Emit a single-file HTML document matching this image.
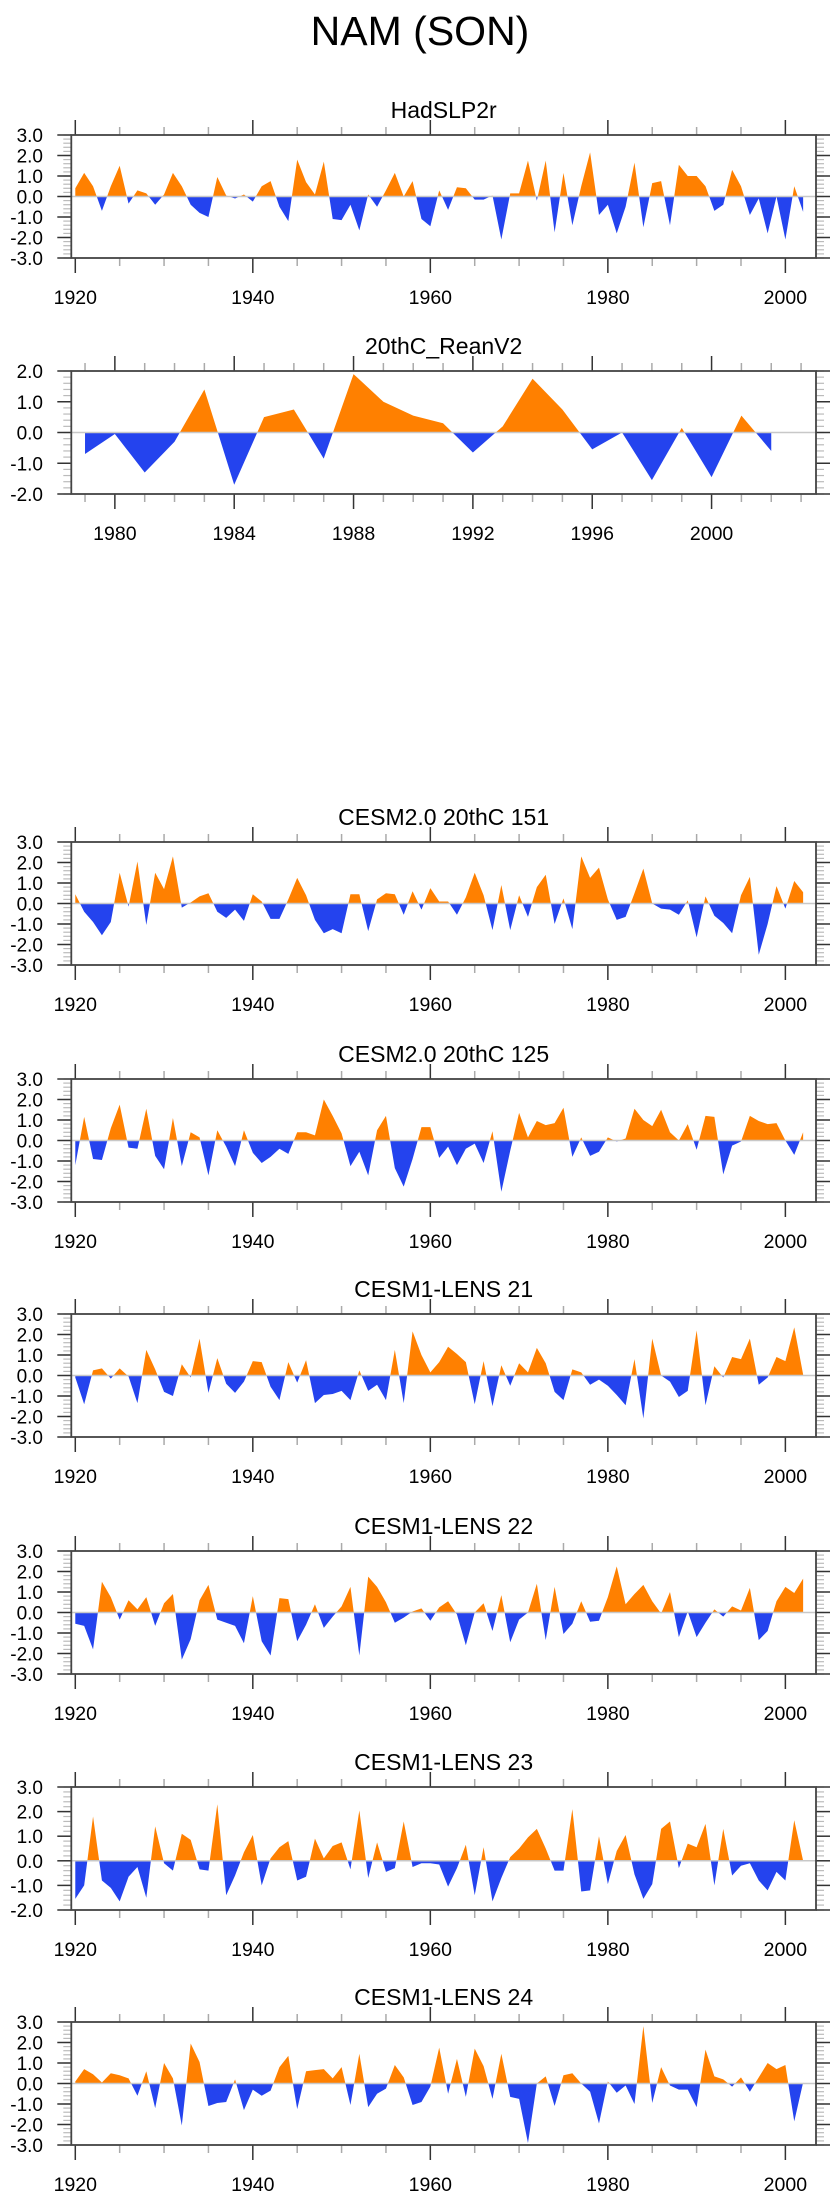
<!DOCTYPE html>
<html><head><meta charset="utf-8">
<style>
html,body{margin:0;padding:0;background:#fff;}
body{width:840px;height:2200px;overflow:hidden;}
svg text{font-family:"Liberation Sans",sans-serif;fill:#000;}
</style></head>
<body>
<svg id="fig" width="840" height="2200" viewBox="0 0 840 2200" xmlns="http://www.w3.org/2000/svg">
<text x="420" y="45" font-size="41" text-anchor="middle">NAM (SON)</text>
</svg>
<script>
const yearsLong = []; for (let y = 1920; y <= 2002; y++) yearsLong.push(y);
const yearsRean = []; for (let y = 1979; y <= 2002; y++) yearsRean.push(y);
const hadslp2r = [0.4,1.15,0.5,-0.7,0.5,1.5,-0.35,0.3,0.15,-0.4,0.1,1.15,0.5,-0.4,-0.8,-1.0,0.95,0.05,-0.1,0.1,-0.25,0.5,0.75,-0.5,-1.2,1.8,0.7,0.1,1.7,-1.1,-1.15,-0.4,-1.65,0.1,-0.5,0.3,1.15,0.0,0.75,-1.1,-1.45,0.3,-0.65,0.45,0.4,-0.15,-0.15,0.05,-2.1,0.15,0.15,1.75,-0.2,1.75,-1.75,1.15,-1.4,0.5,2.15,-0.9,-0.4,-1.8,-0.5,1.65,-1.5,0.65,0.75,-1.4,1.55,1.0,1.0,0.5,-0.7,-0.4,1.3,0.5,-0.9,-0.1,-1.8,0.0,-2.1,0.5,-0.75];
const reanV2 = [-0.7,-0.05,-1.3,-0.3,1.4,-1.7,0.5,0.75,-0.85,1.9,1.0,0.55,0.3,-0.65,0.2,1.75,0.75,-0.55,0.0,-1.55,0.15,-1.45,0.55,-0.6];
const cesm2_151 = [0.45,-0.4,-0.9,-1.55,-0.9,1.5,-0.15,2.05,-1.05,1.5,0.7,2.3,-0.2,0.05,0.35,0.5,-0.4,-0.7,-0.3,-0.85,0.45,0.1,-0.75,-0.75,0.2,1.25,0.4,-0.8,-1.45,-1.25,-1.45,0.45,0.45,-1.35,0.2,0.5,0.45,-0.55,0.6,-0.3,0.75,0.1,0.1,-0.55,0.3,1.5,0.4,-1.3,0.9,-1.3,0.4,-0.65,0.8,1.4,-1.0,0.25,-1.25,2.3,1.25,1.75,0.2,-0.8,-0.65,0.5,1.7,0.0,-0.25,-0.3,-0.55,0.15,-1.65,0.35,-0.6,-0.95,-1.45,0.4,1.3,-2.5,-1.0,0.85,-0.25,1.1,0.55];
const cesm2_125 = [-1.2,1.15,-0.9,-0.95,0.6,1.75,-0.35,-0.4,1.55,-0.75,-1.4,1.1,-1.25,0.4,0.15,-1.7,0.5,-0.3,-1.25,0.5,-0.6,-1.1,-0.8,-0.4,-0.65,0.4,0.4,0.25,2.0,1.2,0.35,-1.25,-0.55,-1.7,0.5,1.2,-1.35,-2.25,-0.9,0.65,0.65,-0.85,-0.3,-1.2,-0.4,-0.15,-1.1,0.45,-2.5,-0.5,1.35,0.15,0.95,0.75,0.85,1.6,-0.8,0.15,-0.75,-0.55,0.15,-0.05,0.1,1.55,1.0,0.7,1.5,0.4,0.0,0.8,-0.45,1.2,1.15,-1.65,-0.25,-0.05,1.2,0.95,0.8,0.85,0.0,-0.7,0.4];
const lens21 = [-0.1,-1.4,0.25,0.35,-0.15,0.35,-0.05,-1.35,1.25,0.3,-0.8,-1.0,0.55,-0.1,1.8,-0.85,0.85,-0.4,-0.85,-0.3,0.7,0.65,-0.55,-1.2,0.65,-0.35,0.75,-1.35,-0.95,-0.9,-0.75,-1.2,0.25,-0.75,-0.45,-1.2,1.25,-1.35,2.15,1.0,0.15,0.65,1.4,1.05,0.65,-1.4,0.7,-1.5,0.5,-0.5,0.6,0.15,1.35,0.6,-0.8,-1.2,0.3,0.15,-0.45,-0.2,-0.5,-0.95,-1.45,0.8,-2.1,1.8,0.0,-0.3,-1.05,-0.75,2.2,-1.45,0.45,-0.1,0.9,0.8,1.8,-0.45,-0.1,0.9,0.7,2.35,0.05];
const lens22 = [-0.55,-0.65,-1.8,1.5,0.75,-0.35,0.6,0.15,0.75,-0.65,0.45,0.9,-2.3,-1.3,0.6,1.35,-0.35,-0.5,-0.65,-1.5,0.8,-1.4,-2.1,0.7,0.65,-1.4,-0.6,0.4,-0.75,-0.2,0.3,1.25,-2.1,1.75,1.25,0.5,-0.5,-0.25,0.05,0.2,-0.4,0.25,0.55,-0.1,-1.6,0.0,0.45,-0.9,0.85,-1.45,-0.35,0.0,1.4,-1.35,1.25,-1.05,-0.55,0.55,-0.45,-0.4,0.75,2.25,0.4,0.9,1.35,0.55,-0.05,1.0,-1.2,0.05,-1.2,-0.5,0.15,-0.2,0.3,0.1,1.2,-1.35,-0.9,0.55,1.25,0.95,1.65];
const lens23 = [-1.55,-1.0,1.8,-0.8,-1.1,-1.65,-0.65,-0.25,-1.5,1.4,-0.1,-0.4,1.1,0.85,-0.35,-0.4,2.3,-1.4,-0.6,0.35,1.05,-1.0,0.1,0.55,0.8,-0.8,-0.65,0.9,0.1,0.6,0.75,-0.35,2.05,-0.7,0.75,-0.45,-0.3,1.6,-0.25,-0.1,-0.1,-0.15,-1.05,-0.3,0.65,-1.4,0.55,-1.65,-0.7,0.15,0.5,0.95,1.3,0.5,-0.4,-0.4,2.1,-1.25,-1.2,1.0,-0.95,0.4,1.05,-0.55,-1.55,-0.95,1.3,1.6,-0.3,0.7,0.55,1.5,-1.0,1.3,-0.6,-0.2,-0.1,-0.8,-1.2,-0.45,-0.8,1.65,0.0];
const lens24 = [0.1,0.7,0.45,0.05,0.5,0.4,0.25,-0.6,0.6,-1.2,1.0,0.25,-2.05,1.95,1.05,-1.1,-0.95,-0.9,0.2,-1.3,-0.3,-0.6,-0.35,0.8,1.35,-1.25,0.6,0.65,0.7,0.25,0.8,-1.05,1.45,-1.15,-0.5,-0.25,0.9,0.3,-1.05,-0.9,-0.15,1.75,-0.5,1.2,-0.65,1.7,0.85,-0.75,1.45,-0.65,-0.75,-2.9,0.0,0.35,-1.1,0.4,0.5,0.0,-0.4,-1.95,0.1,-0.45,-0.1,-1.0,2.8,-0.95,0.8,-0.1,-0.3,-0.3,-1.15,1.65,0.35,0.2,-0.15,0.3,-0.4,0.3,1.0,0.7,0.9,-1.85,0.05];
const yTicks3 = [-3,-2,-1,0,1,2,3];
const yTicks2 = [-2,-1,0,1,2];
const yTicks23 = [-2,-1,0,1,2,3];
const xTickLabelsLong = [1920,1940,1960,1980,2000];
const xTickLabelsRean = [1980,1984,1988,1992,1996,2000];

const NS = "http://www.w3.org/2000/svg";
const svg = document.getElementById('fig');
function mk(tag, attrs, parent) {
  const e = document.createElementNS(NS, tag);
  for (const k in attrs) e.setAttribute(k, attrs[k]);
  (parent || svg).appendChild(e);
  return e;
}
const BL = 71.3, BR = 816;

function panel(cfg) {
  const g = mk('g', {});
  
  
  const top = cfg.top, bot = cfg.top + 123;
  const xs = v => BL + (v - cfg.xmin) / (cfg.xmax - cfg.xmin) * (BR - BL);
  const ys = v => bot - (v - cfg.ymin) / (cfg.ymax - cfg.ymin) * (bot - top);
  const t = mk('text', {x: (BL + BR) / 2, y: top - 17, 'font-size': 23, 'text-anchor': 'middle'}, g);
  t.textContent = cfg.title;
  
  
  // fills
  const xsArr = cfg.years, vals = cfg.values;
  const y0 = ys(0);
  let pos = [], neg = [];
  for (let i = 0; i < vals.length; i++) {
    const x = xs(xsArr[i]), v = vals[i];
    if (i > 0) {
      const pv = vals[i - 1];
      if ((pv > 0 && v < 0) || (pv < 0 && v > 0)) {
        const f = pv / (pv - v);
        const cx = xs(xsArr[i - 1]) + f * (x - xs(xsArr[i - 1]));
        pos.push([cx, y0]); neg.push([cx, y0]);
      }
    }
    pos.push([x, ys(Math.max(v, 0))]);
    neg.push([x, ys(Math.min(v, 0))]);
  }
  const x0 = xs(xsArr[0]), x1 = xs(xsArr[xsArr.length - 1]);
  const pp = 'M' + x0 + ',' + y0 + ' ' + pos.map(p => 'L' + p[0].toFixed(2) + ',' + p[1].toFixed(2)).join(' ') + ' L' + x1 + ',' + y0 + 'Z';
  const np = 'M' + x0 + ',' + y0 + ' ' + neg.map(p => 'L' + p[0].toFixed(2) + ',' + p[1].toFixed(2)).join(' ') + ' L' + x1 + ',' + y0 + 'Z';
  const pe = mk('path', {d: pp, fill: '#ff8000'}, g);
  
  
  const ne = mk('path', {d: np, fill: '#2443ee'}, g);
  
  
  const zl = mk('line', {x1: BL, x2: BR, y1: y0, y2: y0, stroke: '#c8c8c8', 'stroke-width': 1.5}, g);
  
  
  // y minor ticks
  for (let v = cfg.ymin; v <= cfg.ymax + 1e-9; v += 0.2) {
    const y = ys(v);
    mk('line', {x1: BL - 8, x2: BL, y1: y, y2: y, stroke: '#bbb', 'stroke-width': 1.2}, g);
    mk('line', {x1: BR, x2: BR + 8, y1: y, y2: y, stroke: '#bbb', 'stroke-width': 1.2}, g);
  }
  cfg.yticks.forEach(v => {
    const y = ys(v);
    mk('line', {x1: BL - 14, x2: BL, y1: y, y2: y, stroke: '#333', 'stroke-width': 1.5}, g);
    mk('line', {x1: BR, x2: BR + 14, y1: y, y2: y, stroke: '#333', 'stroke-width': 1.5}, g);
    const l = mk('text', {x: 43, y: y + 7, 'font-size': 19, 'text-anchor': 'end'}, g);
    l.textContent = v.toFixed(1);
    
    
  });
  // x ticks
  for (let yr = Math.ceil(cfg.xmin); yr <= cfg.xmax; yr++) {
    if (yr % cfg.minorStep !== 0) continue;
    const x = xs(yr);
    const major = yr % cfg.majorStep === 0;
    const len = major ? 15 : 8;
    const col = major ? '#333' : '#aaa';
    mk('line', {x1: x, x2: x, y1: top - len, y2: top, stroke: col, 'stroke-width': 1.5}, g);
    mk('line', {x1: x, x2: x, y1: bot, y2: bot + len, stroke: col, 'stroke-width': 1.5}, g);
  }
  cfg.xlabels.forEach(yr => {
    const l = mk('text', {x: xs(yr), y: bot + 46, 'font-size': 19.5, 'text-anchor': 'middle'}, g);
    l.textContent = yr;
    
    
  });
  const box = mk('rect', {x: BL, y: top, width: BR - BL, height: bot - top, fill: 'none', stroke: '#444', 'stroke-width': 1.8}, g);
  
  
}

const L = {xmin: 1919.55, xmax: 2003.45, years: yearsLong, xlabels: xTickLabelsLong, minorStep: 5, majorStep: 20};
panel(Object.assign({}, L, {name: 'hadslp2r', title: 'HadSLP2r', top: 135, values: hadslp2r, ymin: -3, ymax: 3, yticks: yTicks3}));
panel({name: 'reanv2', title: '20thC_ReanV2', top: 371, values: reanV2, years: yearsRean, xmin: 1978.54, xmax: 2003.5, ymin: -2, ymax: 2, yticks: yTicks2, xlabels: xTickLabelsRean, minorStep: 1, majorStep: 4});
panel(Object.assign({}, L, {name: 'cesm2-151', title: 'CESM2.0 20thC 151', top: 842, values: cesm2_151, ymin: -3, ymax: 3, yticks: yTicks3}));
panel(Object.assign({}, L, {name: 'cesm2-125', title: 'CESM2.0 20thC 125', top: 1079, values: cesm2_125, ymin: -3, ymax: 3, yticks: yTicks3}));
panel(Object.assign({}, L, {name: 'lens-21', title: 'CESM1-LENS 21', top: 1314, values: lens21, ymin: -3, ymax: 3, yticks: yTicks3}));
panel(Object.assign({}, L, {name: 'lens-22', title: 'CESM1-LENS 22', top: 1551, values: lens22, ymin: -3, ymax: 3, yticks: yTicks3}));
panel(Object.assign({}, L, {name: 'lens-23', title: 'CESM1-LENS 23', top: 1787, values: lens23, ymin: -2, ymax: 3, yticks: yTicks23}));
panel(Object.assign({}, L, {name: 'lens-24', title: 'CESM1-LENS 24', top: 2022, values: lens24, ymin: -3, ymax: 3, yticks: yTicks3}));
</script>
</body></html>
